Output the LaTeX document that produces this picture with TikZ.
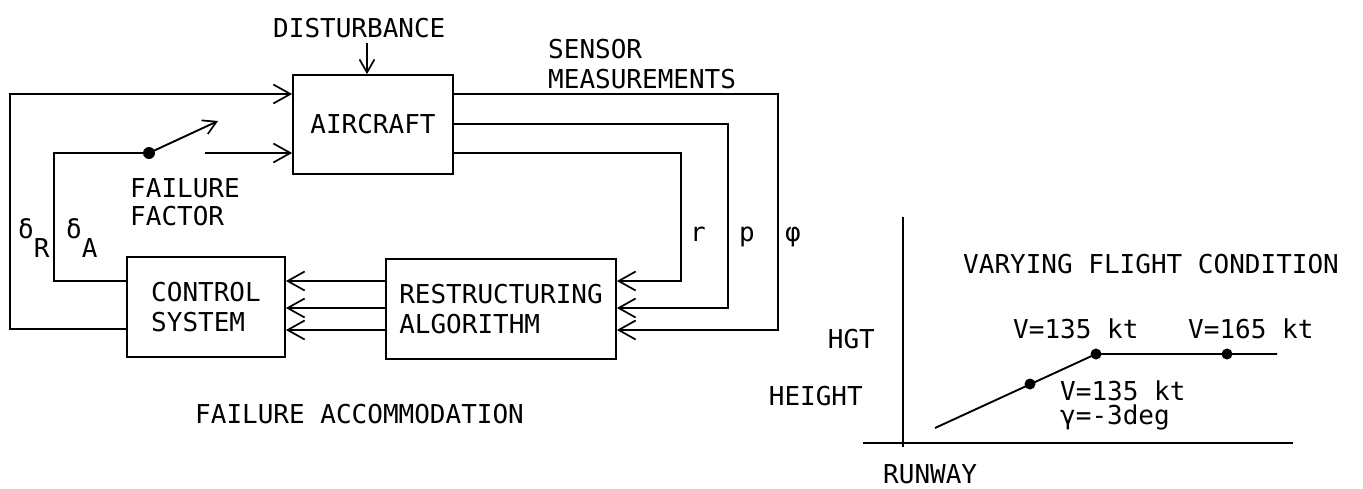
\documentclass[tikz,border=0pt]{standalone}
\usepackage{fontspec}
\newfontfamily\tw{DejaVu Sans Mono}
\usetikzlibrary{arrows.meta}
\begin{document}
\begin{tikzpicture}[x=1pt,y=-1pt,
  every node/.style={font=\tw\fontsize{26}{30}\selectfont},
  box/.style={draw,line width=1.8pt,inner sep=0pt},
  ln/.style={line width=1.9pt},
  barb/.style={-{Straight Barb[length=17pt,width=19pt,line width=1.7pt]}},
  smallbarb/.style={-{Straight Barb[length=13pt,width=15pt,line width=1.7pt]}},
  lbl/.style={anchor=base west,inner sep=0pt},
  dot/.style={fill=black}]
\useasboundingbox (0,0) rectangle (1363,488);

% blocks
\node[box,minimum width=160pt,minimum height=99pt] (ac) at (373,124.5) {AIRCRAFT};
\node[box,minimum width=158pt,minimum height=100pt,align=left] (cs) at (206,307) {CONTROL\\SYSTEM};
\node[box,minimum width=230pt,minimum height=100pt,align=left] (ra) at (501,309) {RESTRUCTURING\\ALGORITHM};

% levels
\coordinate (yTop) at (0,94);
\coordinate (yMid) at (0,124);
\coordinate (yLow) at (0,153);
\coordinate (yR) at (0,329);
\coordinate (y1) at (0,281);
\coordinate (y2) at (0,308);
\coordinate (y3) at (0,330);
\coordinate (xdR) at (10,0);
\coordinate (xdA) at (54,0);
\coordinate (xr) at (681,0);
\coordinate (xp) at (728,0);
\coordinate (xphi) at (778,0);
\coordinate (sw) at (149,153);
\coordinate (swtip) at (218,121);
\coordinate (swout) at (205,153);

% disturbance
\node[lbl] (dist) at (273,37) {DISTURBANCE};
\coordinate (xdist) at (367,0);
\draw[ln,smallbarb] (xdist |- 0,43) -- (xdist |- ac.north);

% control inputs
\draw[ln,barb] (cs.west |- yR) -| (xdR |- yTop) -- (ac.west |- yTop);
\draw[ln] (cs.west |- y1) -| (xdA |- yLow) -- (sw);
\draw[ln,smallbarb] (sw) -- (swtip);
\fill[dot] (sw) circle (6pt);
\draw[ln,barb] (swout) -- (ac.west |- yLow);

\node[lbl] (dR) at (18,238) {δ\raisebox{-19pt}{R}};
\node[lbl] (dA) at (66,238) {δ\raisebox{-19pt}{A}};
\node[lbl] (ff1) at (130,197) {FAILURE};
\node[lbl] (ff2) at (130,225) {FACTOR};

% sensor measurements
\node[lbl] (sm1) at (548,58) {SENSOR};
\node[lbl] (sm2) at (548,88) {MEASUREMENTS};
\draw[ln,barb] (ac.east |- yTop) -| (xphi |- y3) -- (ra.east |- y3);
\draw[ln,barb] (ac.east |- yMid) -| (xp |- y2) -- (ra.east |- y2);
\draw[ln,barb] (ac.east |- yLow) -| (xr |- y1) -- (ra.east |- y1);
\node[anchor=base,inner sep=0pt] (lr) at (698,241) {r};
\node[anchor=base,inner sep=0pt] (lp) at (747,241) {p};
\node[anchor=base,inner sep=0pt] (lphi) at (793,241) {φ};

% restructuring to control
\draw[ln,barb] (ra.west |- y1) -- (cs.east |- y1);
\draw[ln,barb] (ra.west |- y2) -- (cs.east |- y2);
\draw[ln,barb] (ra.west |- y3) -- (cs.east |- y3);

\node[lbl] (fa) at (195,423) {FAILURE ACCOMMODATION};

% flight condition graph
\draw[ln] (903,217) -- (903,447);
\draw[ln] (863,443) -- (1293,443);
\coordinate (g0) at (935,428);
\coordinate (g1) at (1030,384);
\coordinate (g2) at (1096,354);
\coordinate (g3) at (1227,354);
\coordinate (g4) at (1277,354);
\draw[ln] (g0) -- (g2) -- (g4);
\fill[dot] (g1) circle (5.5pt);
\fill[dot] (g2) circle (5.5pt);
\fill[dot] (g3) circle (5.5pt);
\node[lbl] (vfc) at (963,273) {VARYING FLIGHT CONDITION};
\node[lbl] (v1) at (1013,338) {V=135 kt};
\node[lbl] (v2) at (1188,338) {V=165 kt};
\node[lbl] (v3) at (1060,400) {V=135 kt};
\node[lbl] (v4) at (1060,424) {γ=-3deg};
\node[anchor=base east,inner sep=0pt] (hgt) at (875,348) {HGT};
\node[anchor=base east,inner sep=0pt] (hei) at (863,405) {HEIGHT};
\node[lbl] (rw) at (883,483) {RUNWAY};
\end{tikzpicture}
\end{document}
